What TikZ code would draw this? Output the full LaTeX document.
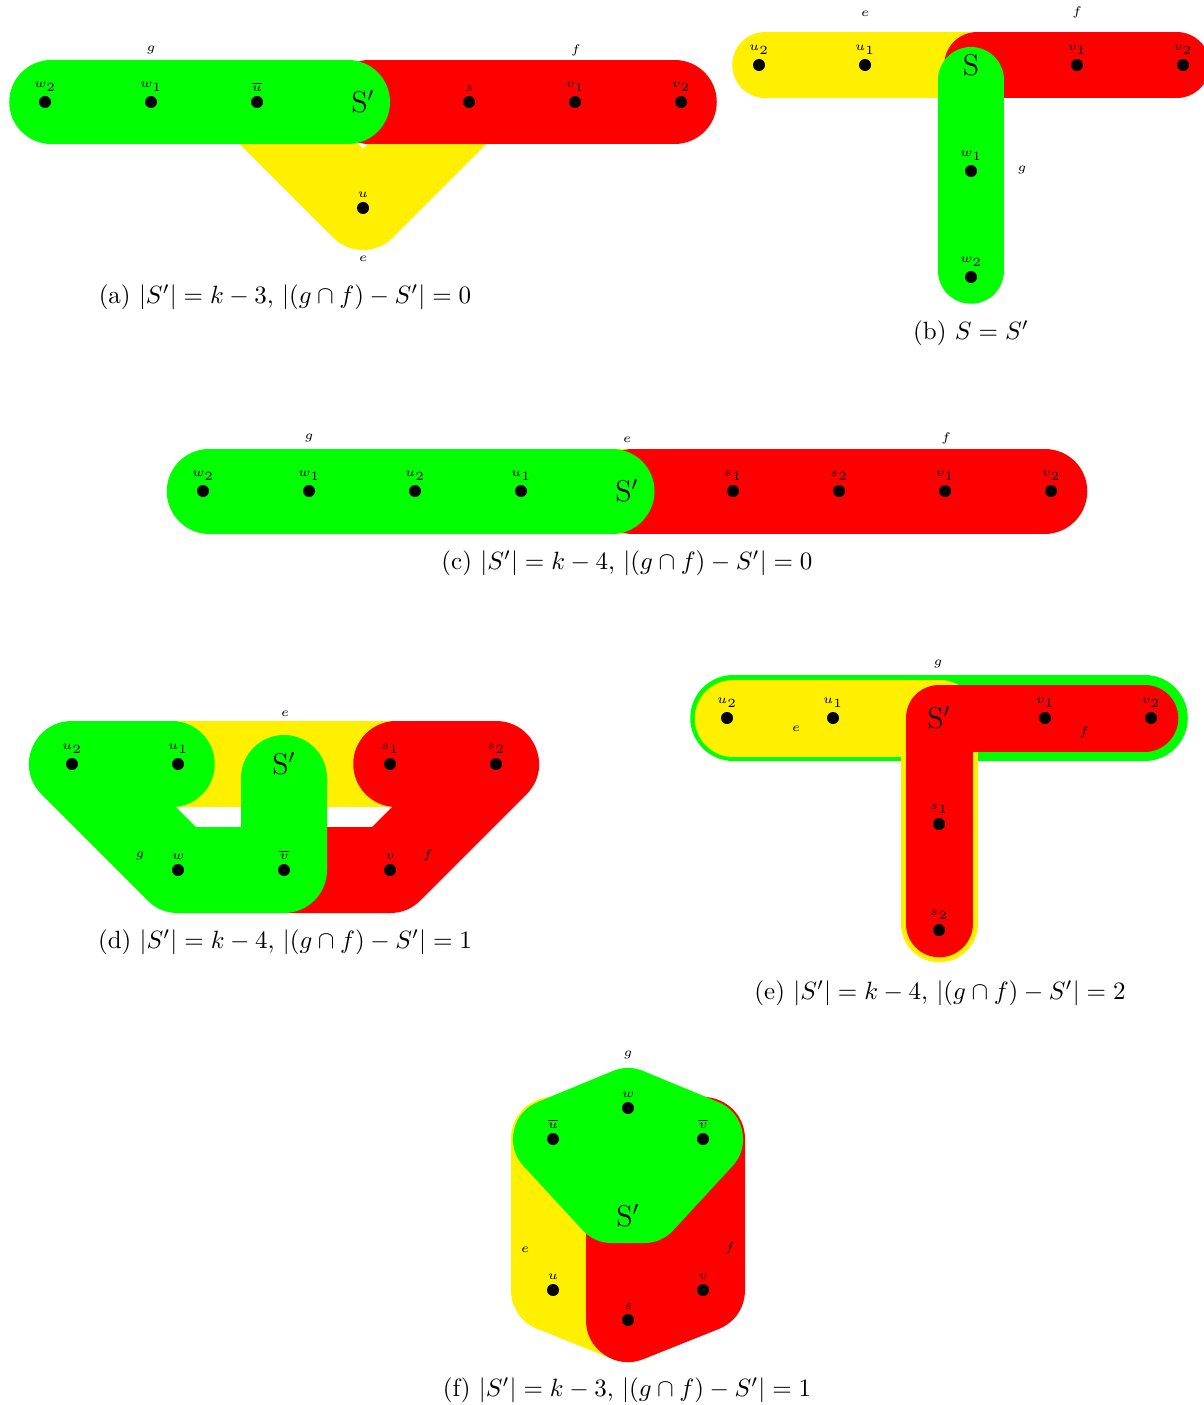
\documentclass[tikz,border=0pt]{standalone}
\usepackage{amsmath}
\usepackage{amssymb}
\usetikzlibrary{positioning, backgrounds}
\definecolor{hgreen}{RGB}{0,255,0}
\definecolor{hred}{RGB}{255,0,0}
\definecolor{hyellow}{RGB}{255,240,0}

\begin{document}
\begin{tikzpicture}[x=0.4pt, y=-0.4pt, node distance=42.4pt, on grid]

	\tikzset{
		vertex/.style={
				circle, fill=black, inner sep=0pt, minimum size=4.8pt
			},
		vlabel/.style={
				font=\tiny, inner sep=0.5pt, label distance=1pt
			},
		elabel/.style={
				font=\tiny, inner sep=0pt
			},
		sprime/.style={
				font=\large, inner sep=0pt
			},
		caption/.style={
				inner sep=0pt
			},
		hedge/.style={
				line width=#1, line cap=round, line join=round
			},
		hedge/.default=33.6pt,
		cut/.style={
				shorten <=2.5pt, shorten >=2.5pt
			},
	}
	\useasboundingbox (0,0) rectangle (1204,1405);

	\node[vertex, label={[vlabel]above:$w_2$}](aw2) at (45,102){};
	\node[vertex, right=of aw2, label={[vlabel]above:$w_1$}](aw1){};
	\node[vertex, right=of aw1, label={[vlabel]above:$\overline{u}$}](aub){};
	\node[sprime, right=of aub](aS){S$'$};
	\node[vertex, right=of aS, label={[vlabel]above:$s$}](as){};
	\node[vertex, right=of as, label={[vlabel]above:$v_1$}](av1){};
	\node[vertex, right=of av1, label={[vlabel]above:$v_2$}](av2){};
	\node[vertex, below=of aS, label={[vlabel]above:$u$}](au){};
	\node[elabel](ag) at (151,50){$g$};
	\node[elabel](af) at (576,50){$f$};
	\node[elabel](ae) at (363,259){$e$};
	\node[caption](capa) at (285,297){(a) $|S'| = k-3$, $|(g \cap f) - S'| = 0$};

	\node[vertex, label={[vlabel]above:$u_2$}](bu2) at (759,65){};
	\node[vertex, right=of bu2, label={[vlabel]above:$u_1$}](bu1){};
	\node[sprime, right=of bu1](bS){S};
	\node[vertex, right=of bS, label={[vlabel]above:$v_1$}](bv1){};
	\node[vertex, right=of bv1, label={[vlabel]above:$v_2$}](bv2){};
	\node[vertex, below=of bS, label={[vlabel]above:$w_1$}](bw1){};
	\node[vertex, below=of bw1, label={[vlabel]above:$w_2$}](bw2){};
	\node[elabel](be) at (865,14){$e$};
	\node[elabel](bf) at (1077,12){$f$};
	\node[elabel](bg) at (1022,170){$g$};
	\node[caption](capb) at (971,333){(b) $S = S'$};

	\node[vertex, label={[vlabel]above:$w_2$}](cw2) at (203,491){};
	\node[vertex, right=of cw2, label={[vlabel]above:$w_1$}](cw1){};
	\node[vertex, right=of cw1, label={[vlabel]above:$u_2$}](cu2){};
	\node[vertex, right=of cu2, label={[vlabel]above:$u_1$}](cu1){};
	\node[sprime, right=of cu1](cS){S$'$};
	\node[vertex, right=of cS, label={[vlabel]above:$s_1$}](cs1){};
	\node[vertex, right=of cs1, label={[vlabel]above:$s_2$}](cs2){};
	\node[vertex, right=of cs2, label={[vlabel]above:$v_1$}](cv1){};
	\node[vertex, right=of cv1, label={[vlabel]above:$v_2$}](cv2){};
	\node[elabel](cg) at (309,438){$g$};
	\node[elabel](ce) at (627,440){$e$};
	\node[elabel](cf) at (946,438){$f$};
	\node[caption](capc) at (627,563){(c) $|S'| = k-4$, $|(g \cap f) - S'| = 0$};

	\node[vertex, label={[vlabel]above:$u_2$}](du2) at (72,764){};
	\node[vertex, right=of du2, label={[vlabel]above:$u_1$}](du1){};
	\node[sprime, right=of du1](dS){S$'$};
	\node[vertex, right=of dS, label={[vlabel]above:$s_1$}](ds1){};
	\node[vertex, right=of ds1, label={[vlabel]above:$s_2$}](ds2){};
	\node[vertex, below=of du1, label={[vlabel]above:$w$}](dw){};
	\node[vertex, below=of dS, label={[vlabel]above:$\overline{v}$}](dvb){};
	\node[vertex, below=of ds1, label={[vlabel]above:$v$}](dv){};
	\node[elabel](de) at (285,714){$e$};
	\node[elabel](dg) at (140,856){$g$};
	\node[elabel](df) at (428,855){$f$};
	\node[caption](capd) at (285,942){(d) $|S'| = k-4$, $|(g \cap f) - S'| = 1$};

	\node[vertex, label={[vlabel]above:$u_2$}](eu2) at (727,718){};
	\node[vertex, right=of eu2, label={[vlabel]above:$u_1$}](eu1){};
	\node[sprime, right=of eu1](eS){S$'$};
	\node[vertex, right=of eS, label={[vlabel]above:$v_1$}](ev1){};
	\node[vertex, right=of ev1, label={[vlabel]above:$v_2$}](ev2){};
	\node[vertex, below=of eS, label={[vlabel]above:$s_1$}](es1){};
	\node[vertex, below=of es1, label={[vlabel]above:$s_2$}](es2){};
	\node[elabel](eg) at (938,664){$g$};
	\node[elabel](ee) at (796,729){$e$};
	\node[elabel](ef) at (1084,732){$f$};
	\node[caption](cape) at (940,993){(e) $|S'| = k-4$, $|(g \cap f) - S'| = 2$};

	\node[vertex, label={[vlabel]above:$w$}](fw) at (628,1108){};
	\node[vertex, label={[vlabel]above:$\overline{u}$}](fub) at (553,1139){};
	\node[vertex, label={[vlabel]above:$\overline{v}$}](fvb) at (703,1139){};
	\node[vertex, label={[vlabel]above:$u$}](fu) at (553,1290){};
	\node[vertex, label={[vlabel]above:$v$}](fv) at (703,1290){};
	\node[vertex, label={[vlabel]above:$s$}](fs) at (628,1320){};
	\node[sprime](fS) at (628,1216){S$'$};
	\coordinate (fSc) at (628,1203);
	\coordinate (fSl) at (612,1203);
	\coordinate (fSr) at (644,1203);
	\node[elabel](fg) at (628,1055){$g$};
	\node[elabel](fe) at (525,1250){$e$};
	\node[elabel](ff) at (730,1248){$f$};
	\node[caption](capf) at (627,1390){(f) $|S'| = k-3$, $|(g \cap f) - S'| = 1$};

	\begin{pgfonlayer}{background}
		\draw[hedge, cut, hyellow] (aub.center) -- (au.center) -- (as.center);
		\draw[hedge, cut, hred] (aS.center) -- (av2.center);
		\draw[hedge, cut, hgreen, shorten >=6pt] (aw2.center) -- (aS.center);

		\draw[hedge=26.4pt, cut, hyellow] (bu2.center) -- (bS.center);
		\draw[hedge=26.4pt, cut, hred] (bS.center) -- (bv2.center);
		\draw[hedge=26.4pt, cut, hgreen, shorten <=6pt] (bS.center) -- (bw2.center);

		\draw[hedge=34pt, cut, hyellow] (cu2.center) -- (cs2.center);
		\draw[hedge=34pt, cut, hred] (cS.center) -- (cv2.center);
		\draw[hedge=34pt, cut, hgreen, shorten >=6pt] (cw2.center) -- (cS.center);

		\draw[hedge=34.4pt, cut, hyellow] (du2.center) -- (ds2.center);
		\draw[hedge=34.4pt, cut, hred] (ds1.center) -- (ds2.center) -- (dv.center) -- (dvb.center);
		\draw[hedge=34.4pt, cut, hgreen, shorten >=5.6pt] (du1.center) -- (du2.center) -- (dw.center) -- (dvb.center) -- (dS.center);

		\draw[hedge=34.4pt, cut, hgreen] (eu2.center) -- (ev2.center);
		\draw[hedge=30.8pt, cut, hyellow] (eu2.center) -- (eS.center) -- (es2.center);
		\draw[hedge=26.8pt, cut, hred] (ev2.center) -- (eS.center) -- (es2.center);

		\filldraw[hedge, hyellow] (fSc) -- (fub.center) -- (fu.center) -- (fs.center) -- cycle;
		\filldraw[hedge, hred] (fvb.center) -- (fv.center) -- (fs.center) -- (fSc) -- cycle;
		\filldraw[hedge=32pt, hgreen] (fub.center) -- (fw.center) -- (fvb.center) -- (fSr) -- (fSl) -- cycle;
	\end{pgfonlayer}

\end{tikzpicture}
\end{document}
